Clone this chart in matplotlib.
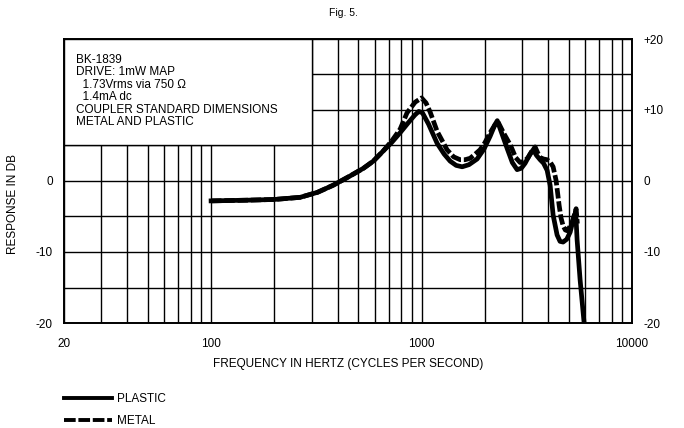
import matplotlib
matplotlib.use('Agg')
import matplotlib.pyplot as plt
from matplotlib.patches import Rectangle
from matplotlib.lines import Line2D

plt.rcParams['font.family'] = ['Liberation Sans', 'DejaVu Sans']

# Response curves (Hz, dB)
plastic_freq = [100, 150, 200, 265, 320, 380, 457, 530, 590, 656, 720, 791, 870, 930,
                970, 1010, 1080, 1186, 1280, 1367, 1460, 1560, 1680, 1837, 1980, 2117,
                2230, 2290, 2400, 2550, 2700, 2845, 2980, 3105, 3250, 3390, 3520, 3659,
                3800, 3951, 4083, 4219, 4406, 4550, 4705, 4900, 5084, 5250, 5400, 5485,
                5667, 5922, 6000]
plastic_db = [-2.8, -2.7, -2.6, -2.3, -1.6, -0.6, 0.7, 1.8, 2.8, 4.2, 5.4, 6.8, 8.3, 9.3,
              9.8, 9.6, 8.0, 5.3, 3.8, 2.8, 2.2, 2.0, 2.3, 3.1, 4.5, 6.3,
              7.9, 8.5, 6.8, 4.6, 2.6, 1.6, 1.8, 2.5, 3.6, 4.4, 3.6, 3.0,
              2.5, 1.5, -0.6, -4.8, -7.6, -8.5, -8.6, -8.2, -7.2, -5.5, -4.3, -8.3,
              -13.9, -20.0, -21.0]

metal_freq = [100, 150, 200, 265, 320, 380, 457, 530, 590, 656, 720, 791, 853, 932,
              1000, 1050, 1099, 1186, 1322, 1420, 1525, 1610, 1701, 1800, 1897, 2000,
              2117, 2230, 2311, 2450, 2650, 2800, 2940, 3080, 3209, 3340, 3465, 3560,
              3659, 3800, 3951, 4100, 4219, 4357, 4505, 4600, 4705, 4820, 4919, 5050,
              5193, 5320, 5426, 5500]
metal_db = [-2.8, -2.7, -2.6, -2.3, -1.6, -0.6, 0.7, 1.8, 2.8, 4.2, 5.6, 7.3, 9.6, 11.1,
            11.7, 11.0, 9.7, 7.0, 4.4, 3.4, 3.0, 3.0, 3.2, 3.8, 4.4, 5.4,
            6.8, 7.9, 8.3, 6.8, 5.0, 3.3, 2.6, 2.8, 3.3, 4.2, 4.8, 4.0,
            3.3, 3.1, 3.0, 2.6, 2.0, 0.1, -3.4, -5.2, -6.3, -6.9, -7.0, -6.5,
            -5.8, -4.8, -3.9, -6.0]

x_major = [20, 100, 1000, 10000]
x_minor = [30, 40, 50, 60, 70, 80, 90, 200, 300, 400, 500, 600, 700, 800, 900,
           2000, 3000, 4000, 5000, 6000, 7000, 8000, 9000]
y_grid = [-20, -15, -10, -5, 0, 5, 10, 15, 20]
y_left_labels = ['-20', '', '-10', '', '0', '', '', '', '']
y_right_ticks = [-20, -10, 0, 10, 20]
y_right_labels = ['-20', '-10', '0', '+10', '+20']

box_lines = ['BK-1839', 'DRIVE: 1mW MAP', '  1.73Vrms via 750 \u03a9', '  1.4mA dc',
             'COUPLER STANDARD DIMENSIONS', 'METAL AND PLASTIC']

FS = 8.5

fig = plt.figure(figsize=(6.84, 4.28), dpi=100, facecolor='white')
ax = fig.add_axes([64/684, 1 - 323/428, 568/684, 284/428])
ax.set_xscale('log')
ax.set_xlim(20, 10000)
ax.set_ylim(-20, 20)

ax.set_xticks(x_major, labels=[str(v) for v in x_major])
ax.set_xticks(x_minor, minor=True)
ax.set_yticks(y_grid, labels=y_left_labels)
ax.tick_params(which='both', length=0, labelsize=FS)
ax.tick_params(axis='x', pad=11)
ax.tick_params(axis='y', pad=8)
ax.set_axisbelow(True)
ax.grid(which='both', color='black', linewidth=1.0)
for s in ax.spines.values():
    s.set_linewidth(1.4)

# white label panel in the upper left corner of the grid
ax.add_patch(Rectangle((20, 5), 280, 15, facecolor='white', edgecolor='black',
                       linewidth=1.0, zorder=1.5))
y0 = 1 - (60 - 39) / 284
for i, line in enumerate(box_lines):
    ax.text((76 - 64) / 568, y0 - i * 12.4 / 284, line, transform=ax.transAxes,
            fontsize=FS, va='center', ha='left', zorder=3)

ax.plot(metal_freq, metal_db, color='black', linewidth=3.4, dashes=(2.2, 0.6),
        solid_capstyle='butt', zorder=3)
ax.plot(plastic_freq, plastic_db, color='black', linewidth=3.4, zorder=3.2)

ax2 = ax.twinx()
ax2.set_ylim(-20, 20)
ax2.set_yticks(y_right_ticks, labels=y_right_labels)
ax2.tick_params(length=0, labelsize=FS, pad=8)
for s in ax2.spines.values():
    s.set_visible(False)

ax.set_xlabel('FREQUENCY IN HERTZ (CYCLES PER SECOND)', fontsize=FS)
ax.xaxis.set_label_coords((348 - 64) / 568, (323 - 364) / 284)
ax.xaxis.label.set_va('center')
ax.set_ylabel('RESPONSE IN DB', fontsize=FS)
ax.yaxis.set_label_coords((13 - 64) / 568, (323 - 204) / 284)
ax.yaxis.label.set_va('center')

fig.text(343/684, 1 - 13/428, 'Fig. 5.', fontsize=7.5, ha='center', va='center')

# legend
handles = [Line2D([], [], color='black', linewidth=2.8),
           Line2D([], [], color='black', linewidth=2.8, dashes=(3.0, 0.7))]
fig.legend(handles, ['PLASTIC', 'METAL'], loc='upper left',
           bbox_to_anchor=(64/684, 1 - 393/428), frameon=False, fontsize=FS,
           handlelength=4.1, handletextpad=0.35, labelspacing=0.85, borderaxespad=0,
           borderpad=0)

fig.savefig('out.png', dpi=100, facecolor='white')
